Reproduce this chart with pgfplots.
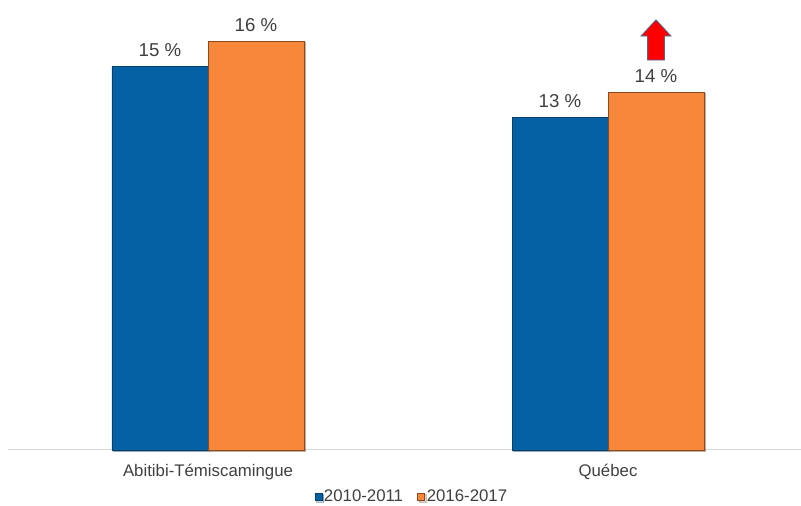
\documentclass[border=0pt]{standalone}
\usepackage{pgfplots}
\pgfplotsset{compat=1.18}
\usepackage{fontspec}
\setmainfont{Liberation Sans}
\usetikzlibrary{shadows}
\definecolor{cblue}{HTML}{0561A3}
\definecolor{cblued}{HTML}{0B3F6B}
\definecolor{corange}{HTML}{F7883B}
\definecolor{coranged}{HTML}{8A4A1E}
\definecolor{txt}{HTML}{404040}
\definecolor{axl}{HTML}{D9D9D9}
\definecolor{arrowb}{HTML}{4A6A94}
\begin{document}
\begin{tikzpicture}
\useasboundingbox (-6pt,-42pt) rectangle (594.75pt,337.5pt);
\begin{axis}[
  scale only axis,
  width=594.75pt, height=337.5pt,
  xmin=-0.5, xmax=1.4825,
  ymin=0, ymax=17.61,
  ybar=0pt, bar width=72pt,
  /pgf/number format/assume math mode=true,
  axis y line=none,
  axis x line*=bottom,
  x axis line style={draw=axl, line width=0.75pt, -},
  xtick={0,1},
  xticklabels={Abitibi-Témiscamingue, Québec},
  major tick length=0pt,
  xticklabel style={anchor=base, yshift=-20.25pt, font=\fontsize{12.6}{14}\selectfont, text=txt},
  nodes near coords={\pgfmathprintnumber{\pgfplotspointmeta}~\%},
  nodes near coords style={anchor=base, yshift=7.5pt, font=\fontsize{14}{16}\selectfont, text=txt},
  legend style={at={(0.501,-0.104)}, anchor=center, legend columns=2, draw=none,
    font=\fontsize{12.6}{14}\selectfont, text=txt,
    nodes={inner sep=1.2pt}},
  legend image code/.code={\path (-9.5pt,0pt) (5.3pt,0pt);
    \fill[#1] (0pt,-2.7pt) rectangle (5.3pt,2.7pt);},
  clip=false,
]
\addplot[fill=cblue, draw=cblued, line width=0.6pt,
  drop shadow={shadow xshift=1.2pt, shadow yshift=-1.2pt, opacity=0.35}]
  coordinates {(0,15) (1,13)};
\addlegendentry{2010-2011}
\addplot[fill=corange, draw=coranged, line width=0.6pt,
  drop shadow={shadow xshift=1.2pt, shadow yshift=-1.2pt, opacity=0.35}]
  coordinates {(0,16) (1,14)};
\addlegendentry{2016-2017}
\fill[red, draw=arrowb, line width=0.6pt]
  (axis cs:1.12,16.83) -- (axis cs:1.1575,16.2) -- (axis cs:1.141,16.2)
  -- (axis cs:1.141,15.26) -- (axis cs:1.099,15.26) -- (axis cs:1.099,16.2)
  -- (axis cs:1.0825,16.2) -- cycle;
\end{axis}
\end{tikzpicture}
\end{document}
